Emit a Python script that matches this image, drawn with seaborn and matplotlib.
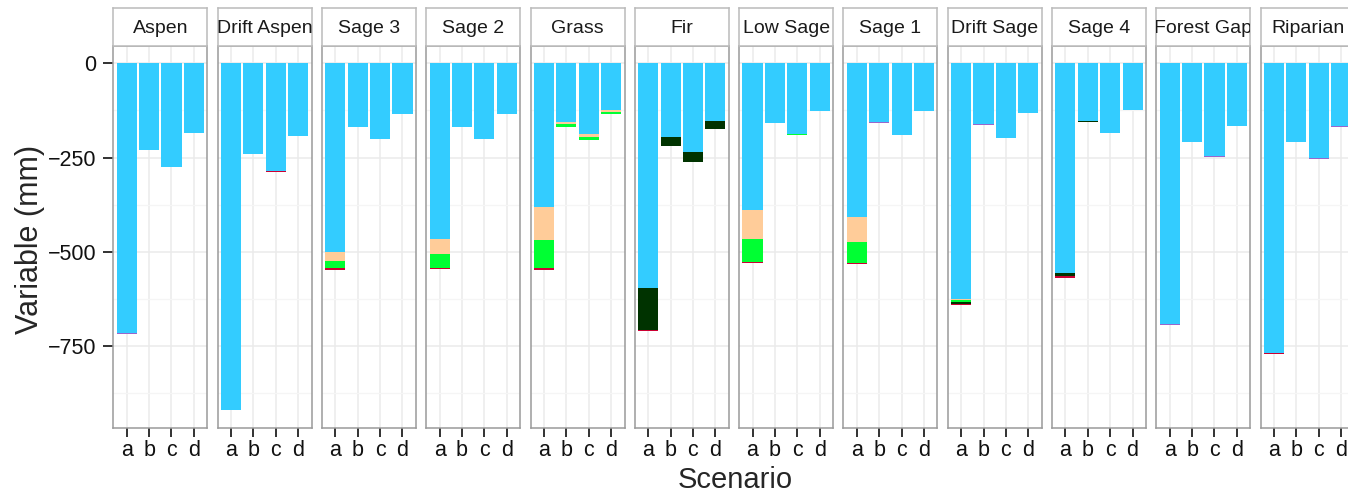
import matplotlib
matplotlib.use("Agg")
import matplotlib.pyplot as plt
import pandas as pd
import seaborn as sns

# sites (facets) and scenarios
sites = ["Aspen", "Drift Aspen", "Sage 3", "Sage 2", "Grass", "Fir",
         "Low Sage", "Sage 1", "Drift Sage", "Sage 4", "Forest Gap", "Riparian"]
scenarios = ["a", "b", "c", "d"]

# magnitudes (mm) of each stacked component, one row per site, columns a-d
blue = [
    [716, 231, 274, 185],
    [919, 241, 286, 192],
    [500, 168, 201, 134],
    [465, 168, 200, 135],
    [382, 156, 187, 125],
    [595, 194, 235, 152],
    [388, 157, 186, 127],
    [407, 156, 191, 127],
    [624, 162, 197, 131],
    [555, 153, 184, 123],
    [692, 208, 246, 165],
    [769, 208, 252, 167],
]
peach = [
    [0, 0, 0, 0], [0, 0, 0, 0], [24, 0, 0, 0], [41, 0, 0, 0],
    [87, 6, 9, 5], [0, 0, 0, 0], [77, 0, 0, 0], [67, 0, 0, 0],
    [4, 0, 0, 0], [2, 0, 0, 0], [0, 0, 0, 0], [0, 0, 0, 0],
]
green = [
    [0, 0, 0, 0], [0, 0, 0, 0], [19, 0, 0, 0], [36, 0, 0, 0],
    [73, 7, 6, 4], [0, 0, 0, 0], [62, 0, 4, 0], [56, 0, 0, 0],
    [6, 0, 0, 0], [0, 0, 0, 0], [0, 0, 0, 0], [0, 0, 0, 0],
]
darkgreen = [
    [0, 0, 0, 0], [0, 0, 0, 0], [0, 0, 0, 0], [0, 0, 0, 0],
    [0, 0, 0, 0], [111, 24, 27, 23], [0, 0, 0, 0], [0, 0, 0, 0],
    [3, 0, 0, 0], [8, 2, 0, 0], [0, 0, 0, 0], [0, 0, 0, 0],
]
purple = [
    [1, 0, 1, 0], [0, 0, 0, 0], [0, 0, 0, 0], [0, 0, 1.5, 0],
    [0, 0, 0, 0], [0, 0, 0, 0], [0, 1.5, 0, 0], [0, 1.5, 0, 0],
    [0, 1.5, 0, 1], [0, 0, 1.5, 1], [1, 1, 1.5, 1], [0, 1, 1.5, 1],
]
crimson = [
    [0, 0, 0, 0], [0, 0, 3, 0], [5, 0, 0, 0], [3, 0, 0, 0],
    [7, 0, 0, 0], [4, 0, 0, 0], [3, 0, 0, 0], [1, 0, 0, 0],
    [3, 0, 0, 0], [4, 0, 0, 0], [2, 0, 0, 0], [2, 0, 0, 0],
]

layers = [("blue", blue), ("peach", peach), ("green", green),
          ("darkgreen", darkgreen), ("purple", purple), ("crimson", crimson)]
colors = {"blue": "#33CCFF", "peach": "#FFCC99", "green": "#00FF33",
          "darkgreen": "#003300", "purple": "#9966CC", "crimson": "#CC0033"}

# cumulative depth of each layer (stacked downward from 0)
rows = []
for i, site in enumerate(sites):
    for j, sc in enumerate(scenarios):
        depth = 0
        for name, vals in layers:
            depth -= vals[i][j]
            rows.append(dict(site=site, scenario=sc, layer=name, depth=depth))
df = pd.DataFrame(rows)

sns.set_style("white")
plt.rcParams['font.family'] = ['Liberation Sans', 'DejaVu Sans']

W, H = 1348, 492
fig = plt.figure(figsize=(W / 100, H / 100), dpi=100)

left0, pitch, pw = 113.3, 104.3, 94.0
ptop, pbot, stop = 46.0, 427.7, 8.3

for k, site in enumerate(sites):
    x0 = left0 + k * pitch
    ax = fig.add_axes([x0 / W, 1 - pbot / H, pw / W, (pbot - ptop) / H])
    sax = fig.add_axes([x0 / W, 1 - ptop / H, pw / W, (ptop - stop) / H])

    ax.set_axisbelow(True)
    for name, _ in reversed(layers):
        sub = df[(df.site == site) & (df.layer == name)]
        sns.barplot(data=sub, x="scenario", y="depth", order=scenarios,
                    color=colors[name], saturation=1, width=0.9,
                    errorbar=None, linewidth=0, ax=ax)

    ax.set_xlim(-0.6, 3.6)
    ax.set_ylim(-966, 46)
    ax.set_yticks([0, -250, -500, -750])
    ax.set_yticks([-125, -375, -625, -875], minor=True)
    ax.grid(which="major", color="#EBEBEB", lw=1.1)
    ax.grid(which="minor", axis="y", color="#F5F5F5", lw=0.9)
    ax.set_xlabel("")
    ax.set_ylabel("")
    for sp in ax.spines.values():
        sp.set_color("#9A9A9A")
        sp.set_linewidth(1.1)
    ax.tick_params(axis="x", which="major", length=6.5, width=1.3,
                   color="#222222", labelsize=15.5, labelcolor="#111111",
                   pad=2.5, bottom=True)
    ax.tick_params(axis="y", which="minor", length=0)
    if k == 0:
        ax.set_yticklabels(["0", "\u2212250", "\u2212500", "\u2212750"])
        ax.tick_params(axis="y", which="major", length=7, width=1.3,
                       color="#222222", labelsize=15.5, labelcolor="#111111",
                       pad=5, left=True)
    else:
        ax.tick_params(axis="y", which="major", length=0, labelleft=False)

    sax.set_xlim(0, 1)
    sax.set_ylim(0, 1)
    sax.set_xticks([])
    sax.set_yticks([])
    sax.set_facecolor("white")
    for sp in sax.spines.values():
        sp.set_color("#BBBBBB")
        sp.set_linewidth(1.1)
    sax.text(0.5, 0.47, site, ha="center", va="center", fontsize=14,
             color="#1A1A1A", clip_on=True)

fig.text(30 / W, 1 - 239 / H, "Variable (mm)", rotation=90, ha="center",
         va="center", fontsize=22)
fig.text(735 / W, 1 - 480 / H, "Scenario", ha="center", va="center",
         fontsize=21)

fig.savefig("out.png", dpi=100)
